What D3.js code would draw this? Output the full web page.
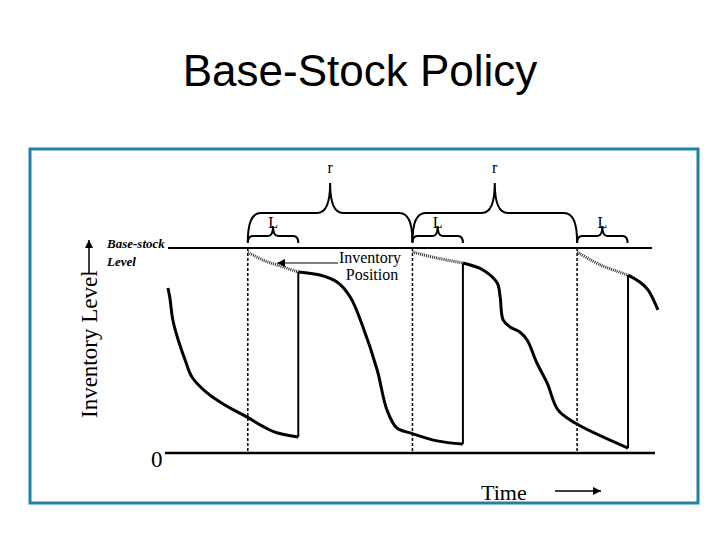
<!DOCTYPE html>
<meta charset="utf-8">
<style>
  body { margin: 0; background: #fff; }
  svg { display: block; }
  text.serif { font-family: "Liberation Serif", "Times New Roman", "DejaVu Serif", serif; }
  path.net { fill: none; stroke: #000; stroke-width: 3; stroke-linejoin: round; }
  line.jump { stroke: #000; stroke-width: 2; }
  path.pos { fill: none; stroke: #333; stroke-width: 3; stroke-dasharray: 1,1; }
  line.order { stroke: #000; stroke-width: 1.5; stroke-dasharray: 3,2; }
  path.brace { fill: none; stroke: #000; stroke-width: 2; }
</style>
<body>
<div id="chart"></div>
<script src="https://cdn.jsdelivr.net/npm/d3@7"></script>
<script>

// time units along x, inventory units along y (base-stock = 100)
var baseStock = 100,
    leadTime = 10.3,
    orderTimes = [16.9, 50.5, 84.1];

// net inventory, one array per replenishment cycle [time, level]
var cycle1 = [[0.6, 80.5], [1.0, 75.6], [1.6, 64.9], [2.7, 55.1], [4.1, 45.4], [5.5, 37.1],
              [8.6, 29.3], [12.2, 23.4], [16.7, 17.6], [19.8, 13.2], [22.4, 10.2], [27.2, 7.8]];
var cycle2 = [[27.2, 88.3], [31.6, 86.8], [35.1, 83.4], [37.8, 76.1], [40.4, 61.5], [43.3, 40.5],
              [45.3, 21.0], [47.3, 12.2], [50.0, 9.8], [55.5, 5.9], [60.8, 4.4]];
var cycle3 = [[60.8, 92.7], [64.9, 89.3], [67.8, 82.9], [68.4, 76.1], [69.0, 64.9], [70.4, 61.5],
              [72.4, 59.0], [73.9, 55.1], [75.9, 43.9], [78.0, 34.1], [80.2, 21.0], [83.7, 14.6], [94.5, 2.4]];
var cycle4 = [[94.5, 86.8], [96.9, 83.4], [98.6, 79.5], [100.6, 69.8]];

// inventory position during each lead time
var position1 = [[16.9, 98.0], [20.0, 94.1], [22.9, 91.7], [27.2, 88.3]];
var position2 = [[50.5, 98.0], [55.5, 95.1], [60.8, 92.7]];
var position3 = [[84.1, 98.0], [88.9, 91.7], [94.5, 86.8]];

var cycles = [cycle1, cycle2, cycle3, cycle4],
    positions = [position1, position2, position3];

var width = 720, height = 540;

var x = d3.scaleLinear().domain([0, 100]).range([165, 655]),
    y = d3.scaleLinear().domain([0, baseStock]).range([453, 248]);

var svg = d3.select("#chart").append("svg")
    .attr("width", width)
    .attr("height", height);

// frame
svg.append("rect")
    .attr("x", 30).attr("y", 149)
    .attr("width", 668).attr("height", 354)
    .attr("fill", "none")
    .attr("stroke", "#1f84a3")
    .attr("stroke-width", 3);

svg.append("text")
    .attr("x", 360).attr("y", 86)
    .attr("text-anchor", "middle")
    .style("font-family", "'Liberation Sans', Arial, sans-serif")
    .style("font-size", "44px")
    .text("Base-Stock Policy");

svg.append("defs").append("marker")
    .attr("id", "head")
    .attr("viewBox", "0 0 10 10")
    .attr("refX", 10).attr("refY", 5)
    .attr("markerWidth", 8).attr("markerHeight", 8)
    .attr("markerUnits", "userSpaceOnUse")
    .attr("orient", "auto")
  .append("path")
    .attr("d", "M0,0L10,5L0,10z")
    .attr("fill", "#000");

// base-stock and zero levels
svg.append("line")
    .attr("x1", x(0.6)).attr("x2", x(99.4))
    .attr("y1", y(baseStock)).attr("y2", y(baseStock))
    .attr("stroke", "#000").attr("stroke-width", 2);

svg.append("line")
    .attr("x1", x(0)).attr("x2", x(100))
    .attr("y1", y(0)).attr("y2", y(0))
    .attr("stroke", "#000").attr("stroke-width", 2.5);

// order epochs
svg.selectAll("line.order")
    .data(orderTimes)
  .enter().append("line")
    .attr("class", "order")
    .attr("x1", function(d) { return x(d); })
    .attr("x2", function(d) { return x(d); })
    .attr("y1", y(baseStock))
    .attr("y2", y(0));

var line = d3.line()
    .x(function(d) { return x(d[0]); })
    .y(function(d) { return y(d[1]); })
    .curve(d3.curveCatmullRom.alpha(0.5));

svg.selectAll("path.pos")
    .data(positions)
  .enter().append("path")
    .attr("class", "pos")
    .attr("d", line);

svg.selectAll("path.net")
    .data(cycles)
  .enter().append("path")
    .attr("class", "net")
    .attr("d", line);

// replenishment jumps
var jumps = d3.range(cycles.length - 1).map(function(i) {
  return [cycles[i][cycles[i].length - 1], cycles[i + 1][0]];
});

svg.selectAll("line.jump")
    .data(jumps)
  .enter().append("line")
    .attr("class", "jump")
    .attr("x1", function(d) { return x(d[0][0]); })
    .attr("x2", function(d) { return x(d[1][0]); })
    .attr("y1", function(d) { return y(d[0][1]); })
    .attr("y2", function(d) { return y(d[1][1]); });

function brace(x0, x1, yBase, yLine, yPeak, rad) {
  var xm = (x0 + x1) / 2;
  return "M" + x0 + "," + yBase +
    "Q" + x0 + "," + yLine + " " + (x0 + rad) + "," + yLine +
    "L" + (xm - rad) + "," + yLine +
    "Q" + xm + "," + yLine + " " + xm + "," + yPeak +
    "Q" + xm + "," + yLine + " " + (xm + rad) + "," + yLine +
    "L" + (x1 - rad) + "," + yLine +
    "Q" + x1 + "," + yLine + " " + x1 + "," + yBase;
}

// review period braces
var reviews = d3.range(orderTimes.length - 1).map(function(i) {
  return [orderTimes[i], orderTimes[i + 1]];
});

svg.selectAll("path.rbrace")
    .data(reviews)
  .enter().append("path")
    .attr("class", "brace rbrace")
    .attr("d", function(d) { return brace(x(d[0]), x(d[1]), 242, 213, 183, 13); });

svg.selectAll("text.rlab")
    .data(reviews)
  .enter().append("text")
    .attr("class", "serif rlab")
    .attr("x", function(d) { return x((d[0] + d[1]) / 2); })
    .attr("y", 173)
    .attr("text-anchor", "middle")
    .style("font-size", "16px")
    .text("r");

// lead time braces
svg.selectAll("path.lbrace")
    .data(orderTimes)
  .enter().append("path")
    .attr("class", "brace lbrace")
    .attr("d", function(d) { return brace(x(d), x(d + leadTime), 243, 236, 226, 5); });

svg.selectAll("text.llab")
    .data(orderTimes)
  .enter().append("text")
    .attr("class", "serif llab")
    .attr("x", function(d) { return x(d + leadTime / 2); })
    .attr("y", 228)
    .attr("text-anchor", "middle")
    .style("font-size", "16px")
    .text("L");

// labels
svg.append("text")
    .attr("class", "serif")
    .attr("x", 107).attr("y", 248)
    .style("font-size", "13px").style("font-weight", "bold").style("font-style", "italic")
    .text("Base-stock");

svg.append("text")
    .attr("class", "serif")
    .attr("x", 107).attr("y", 266)
    .style("font-size", "13px").style("font-weight", "bold").style("font-style", "italic")
    .text("Level");

svg.append("text")
    .attr("class", "serif")
    .attr("x", 370).attr("y", 263)
    .attr("text-anchor", "middle")
    .style("font-size", "16px")
    .text("Inventory");

svg.append("text")
    .attr("class", "serif")
    .attr("x", 372).attr("y", 280)
    .attr("text-anchor", "middle")
    .style("font-size", "16px")
    .text("Position");

svg.append("line")
    .attr("x1", 338).attr("y1", 263)
    .attr("x2", x(22.9)).attr("y2", 263)
    .attr("stroke", "#000").attr("stroke-width", 1)
    .attr("marker-end", "url(#head)");

svg.append("text")
    .attr("class", "serif")
    .attr("transform", "translate(97,418)rotate(-90)")
    .style("font-size", "23px")
    .text("Inventory Level");

svg.append("line")
    .attr("x1", 89).attr("y1", 274)
    .attr("x2", 89).attr("y2", 240)
    .attr("stroke", "#000").attr("stroke-width", 1.5)
    .attr("marker-end", "url(#head)");

svg.append("text")
    .attr("class", "serif")
    .attr("x", 151).attr("y", 467)
    .style("font-size", "23px")
    .text("0");

svg.append("text")
    .attr("class", "serif")
    .attr("x", 481).attr("y", 500)
    .style("font-size", "22px")
    .text("Time");

svg.append("line")
    .attr("x1", 555).attr("y1", 491)
    .attr("x2", 601).attr("y2", 491)
    .attr("stroke", "#000").attr("stroke-width", 1.5)
    .attr("marker-end", "url(#head)");

</script>
</body>
